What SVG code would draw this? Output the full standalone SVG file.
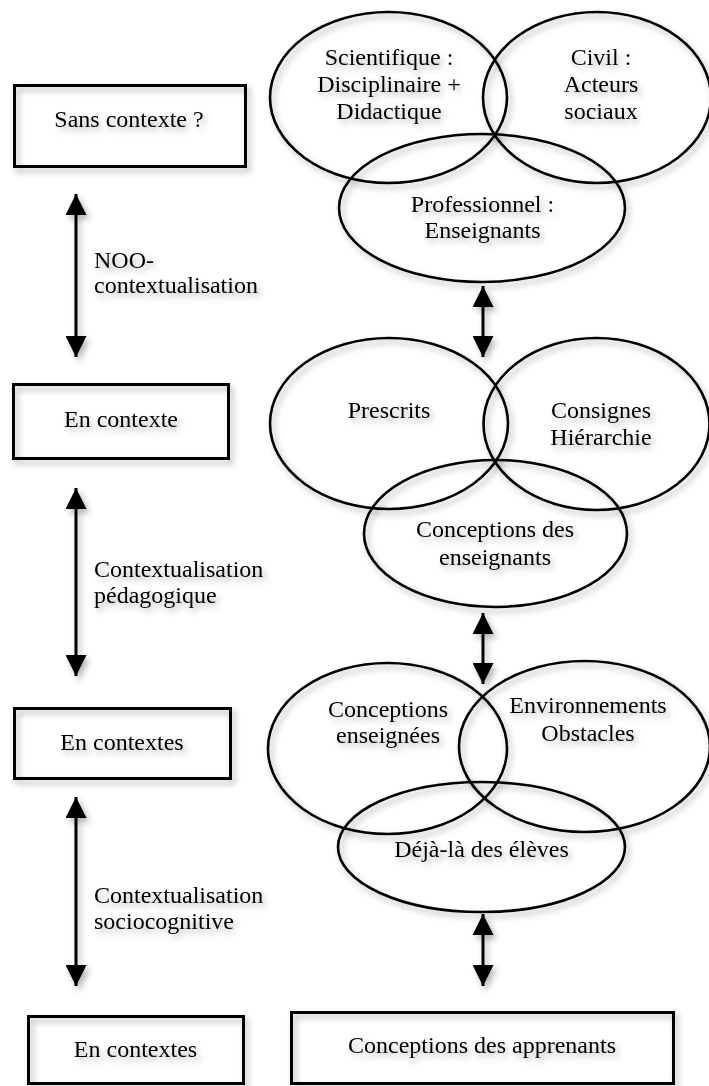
<svg xmlns="http://www.w3.org/2000/svg" width="709" height="1086" viewBox="0 0 709 1086">
<defs>
<filter id="sh" x="-20%" y="-20%" width="140%" height="140%">
<feDropShadow dx="3" dy="4" stdDeviation="3" flood-color="#000" flood-opacity="0.3"/>
</filter>
<marker id="ah" viewBox="0 0 22 21" refX="21" refY="10.5" markerWidth="22" markerHeight="21" markerUnits="userSpaceOnUse" orient="auto-start-reverse">
<path d="M0,0 L21,10.5 L0,21 Z" fill="#000"/>
</marker>
</defs>
<style>
.box{fill:none;stroke:#000;stroke-width:3}
.ell{fill:none;stroke:#000;stroke-width:2.6}
.t{font-family:"Liberation Serif","Times New Roman",serif;font-size:24px;fill:#000}
.c{text-anchor:middle}
.arr{stroke:#000;stroke-width:3;fill:none;marker-start:url(#ah);marker-end:url(#ah)}
g{filter:url(#sh)}
</style>
<rect width="709" height="1086" fill="#fff"/>

<g id="connectors">
<line class="arr" x1="76" y1="194" x2="76" y2="357"/>
<line class="arr" x1="76" y1="488" x2="76" y2="676"/>
<line class="arr" x1="76" y1="797" x2="76" y2="986"/>
<line class="arr" x1="483" y1="286" x2="483" y2="357"/>
<line class="arr" x1="483" y1="613" x2="483" y2="684"/>
<line class="arr" x1="483" y1="914" x2="483" y2="986"/>
<text class="t" x="94" y="268">NOO-</text>
<text class="t" x="94" y="293">contextualisation</text>
<text class="t" x="94" y="577">Contextualisation</text>
<text class="t" x="94" y="603">pédagogique</text>
<text class="t" x="94" y="903">Contextualisation</text>
<text class="t" x="94" y="929">sociocognitive</text>
</g>

<g id="box-sans-contexte">
<rect class="box" x="14.5" y="85.5" width="231" height="81"/>
<text class="t c" x="129" y="127">Sans contexte ?</text>
</g>
<g id="box-en-contexte">
<rect class="box" x="13.5" y="384.5" width="215" height="74"/>
<text class="t c" x="121" y="427">En contexte</text>
</g>
<g id="box-en-contextes-1">
<rect class="box" x="14.5" y="708.5" width="216" height="70"/>
<text class="t c" x="122" y="750">En contextes</text>
</g>
<g id="box-en-contextes-2">
<rect class="box" x="28.5" y="1016.5" width="215" height="67"/>
<text class="t c" x="135.5" y="1057">En contextes</text>
</g>
<g id="box-apprenants">
<rect class="box" x="291.5" y="1012.5" width="382" height="71"/>
<text class="t c" x="482" y="1053">Conceptions des apprenants</text>
</g>

<g id="ell-scientifique">
<ellipse class="ell" cx="388.5" cy="97.5" rx="118.5" ry="85.5"/>
<text class="t c" x="389" y="65">Scientifique :</text>
<text class="t c" x="389" y="92">Disciplinaire +</text>
<text class="t c" x="389" y="119">Didactique</text>
</g>
<g id="ell-civil">
<ellipse class="ell" cx="597" cy="97.5" rx="114" ry="85.5"/>
<text class="t c" x="601" y="65">Civil :</text>
<text class="t c" x="601" y="92">Acteurs</text>
<text class="t c" x="601" y="119">sociaux</text>
</g>
<g id="ell-professionnel">
<ellipse class="ell" cx="482" cy="208" rx="143" ry="74"/>
<text class="t c" x="482.5" y="212">Professionnel :</text>
<text class="t c" x="482.5" y="238">Enseignants</text>
</g>

<g id="ell-prescrits">
<ellipse class="ell" cx="389" cy="423.5" rx="119" ry="85.5"/>
<text class="t c" x="389" y="418">Prescrits</text>
</g>
<g id="ell-consignes">
<ellipse class="ell" cx="596.5" cy="424" rx="113" ry="86"/>
<text class="t c" x="601" y="418">Consignes</text>
<text class="t c" x="601" y="445">Hiérarchie</text>
</g>
<g id="ell-conceptions-enseignants">
<ellipse class="ell" cx="495.5" cy="533.5" rx="131.5" ry="73.5"/>
<text class="t c" x="495" y="537">Conceptions des</text>
<text class="t c" x="495" y="565">enseignants</text>
</g>

<g id="ell-conceptions-enseignees">
<ellipse class="ell" cx="387.5" cy="748.5" rx="119.5" ry="85.5"/>
<text class="t c" x="388" y="717">Conceptions</text>
<text class="t c" x="388" y="743">enseignées</text>
</g>
<g id="ell-environnements">
<ellipse class="ell" cx="584.5" cy="746.5" rx="125.5" ry="85.5"/>
<text class="t c" x="588" y="713">Environnements</text>
<text class="t c" x="588" y="741">Obstacles</text>
</g>
<g id="ell-deja-la">
<ellipse class="ell" cx="481.5" cy="847" rx="143.5" ry="65"/>
<text class="t c" x="481.5" y="857">Déjà-là des élèves</text>
</g>
</svg>
